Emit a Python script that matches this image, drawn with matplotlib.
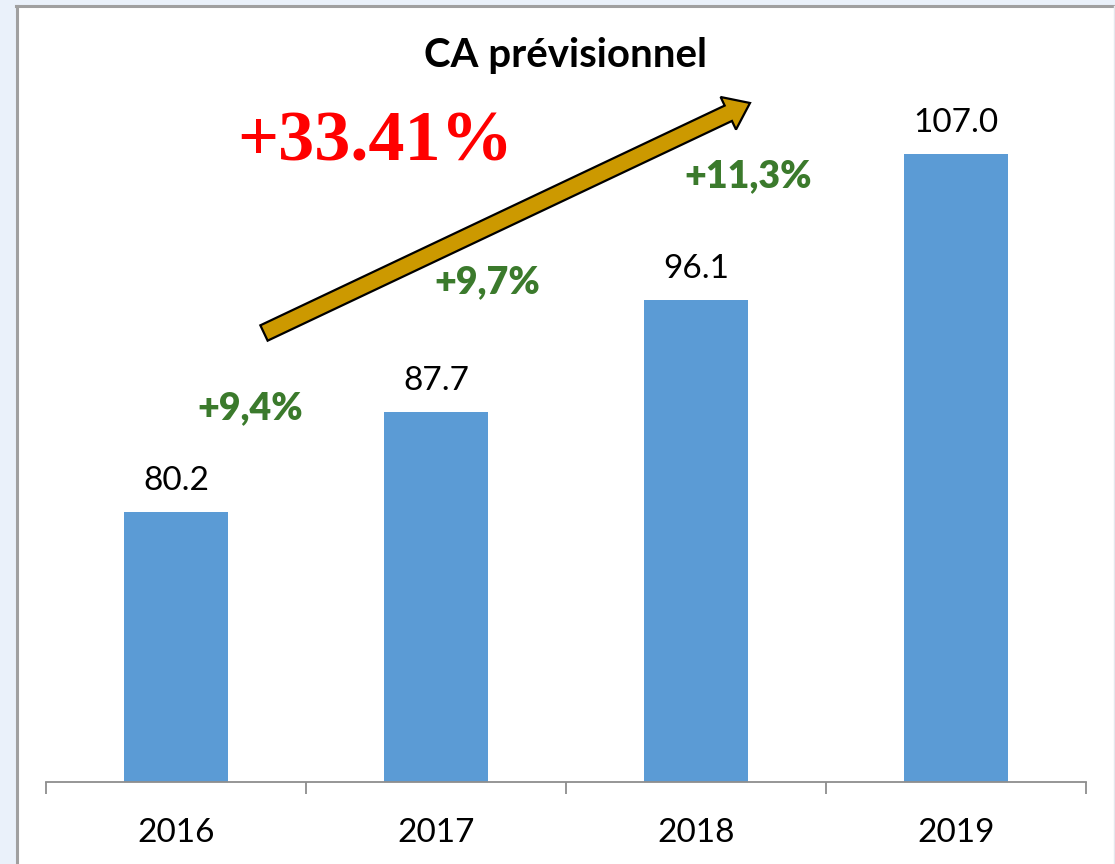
import matplotlib
matplotlib.use("Agg")
import matplotlib.pyplot as plt
from matplotlib.patches import Rectangle, FancyArrow
from matplotlib.transforms import Affine2D

# ---- data ----
years = ["2016", "2017", "2018", "2019"]
ca_values = [80.2, 87.7, 96.1, 107.0]
growth_labels = ["+9,4%", "+9,7%", "+11,3%"]
total_growth = "+33.41%"
title = "CA prévisionnel"

W, H = 1115, 864
fig = plt.figure(figsize=(W / 100, H / 100), dpi=100, facecolor="#EAF1FA")
px = Affine2D().scale(1 / 100) + fig.dpi_scale_trans  # pixel coords, origin bottom-left

def P(x, y):
    # convert image coords (origin top-left) to bottom-left pixel coords
    return x, H - y

# white panel with border
panel = Rectangle(P(17, 880), 1097, 874, transform=px, facecolor="white",
                  edgecolor="none", zorder=-5)
fig.add_artist(panel)
fig.add_artist(plt.Line2D([17, 17], [H - 6, -10], transform=px, color="#A0A0A0", lw=2.2, zorder=-4))
fig.add_artist(plt.Line2D([16, 1114], [H - 6, H - 6], transform=px, color="#A0A0A0", lw=2.2, zorder=-4))
fig.add_artist(plt.Line2D([1113.5, 1113.5], [H - 6, -10], transform=px, color="#E4E8EE", lw=1.0, zorder=-4))

font = "Lato"

# axes: y range starts at 60
ymin, ymax = 60, 115
ax_left, ax_right = 46, 1086
ax_bottom = 782
k = 13.36
ax_top = ax_bottom - (ymax - ymin) * k
ax = fig.add_axes([ax_left / W, (H - ax_bottom) / H, (ax_right - ax_left) / W,
                   (ax_bottom - ax_top) / H])
ax.set_zorder(1)
ax.set_facecolor("none")
xs = list(range(len(years)))
bars = ax.bar(xs, ca_values, width=0.4, color="#5B9BD5", zorder=2)
ax.set_ylim(ymin, ymax)
ax.set_xlim(-0.5, len(years) - 0.5)

for s in ["top", "right", "left"]:
    ax.spines[s].set_visible(False)
ax.spines["bottom"].set_color("#8E8E8E")
ax.spines["bottom"].set_linewidth(1.3)
ax.set_yticks([])
ax.set_xticks([i - 0.5 for i in range(len(years) + 1)])
ax.set_xticklabels([])
ax.tick_params(axis="x", which="major", length=8.6, width=1.3, color="#8E8E8E", direction="out")
ax.set_xticks(xs, minor=True)
ax.set_xticklabels(years, minor=True, fontsize=24, family=font, color="black")
ax.tick_params(axis="x", which="minor", length=0, pad=26)

for x, v in zip(xs, ca_values):
    ax.annotate(f"{v:.1f}", (x, v), xytext=(0, 31), textcoords="offset pixels",
                ha="center", va="center", fontsize=24, family=font, color="black")

# title
fig.text(*P(566, 55), title, transform=px, ha="center", va="center",
         fontsize=29, fontweight="bold", family=font, color="black", zorder=3)

# growth labels
green = "#3B7A2C"
growth_pos = [(250, 408), (487, 282), (748, 176)]
for lab, (gx, gy) in zip(growth_labels, growth_pos):
    fig.text(*P(gx, gy), lab, transform=px, ha="center", va="center",
             fontsize=27, fontweight="heavy", family=font, color=green, zorder=3)

# big arrow
tx, ty = P(264, 333)
hx, hy = P(750, 103)
arr = FancyArrow(tx, ty, hx - tx, hy - ty, width=17, head_width=36, head_length=24,
                 length_includes_head=True, transform=px, facecolor="#CC9900",
                 edgecolor="black", linewidth=1.6, zorder=5)
fig.add_artist(arr)

# total growth
fig.text(*P(375, 143), total_growth, transform=px, ha="center", va="center",
         fontsize=52, fontweight="bold", family="Liberation Serif", color="#FF0000", zorder=6)

fig.savefig("out.png", dpi=100, facecolor=fig.get_facecolor())
